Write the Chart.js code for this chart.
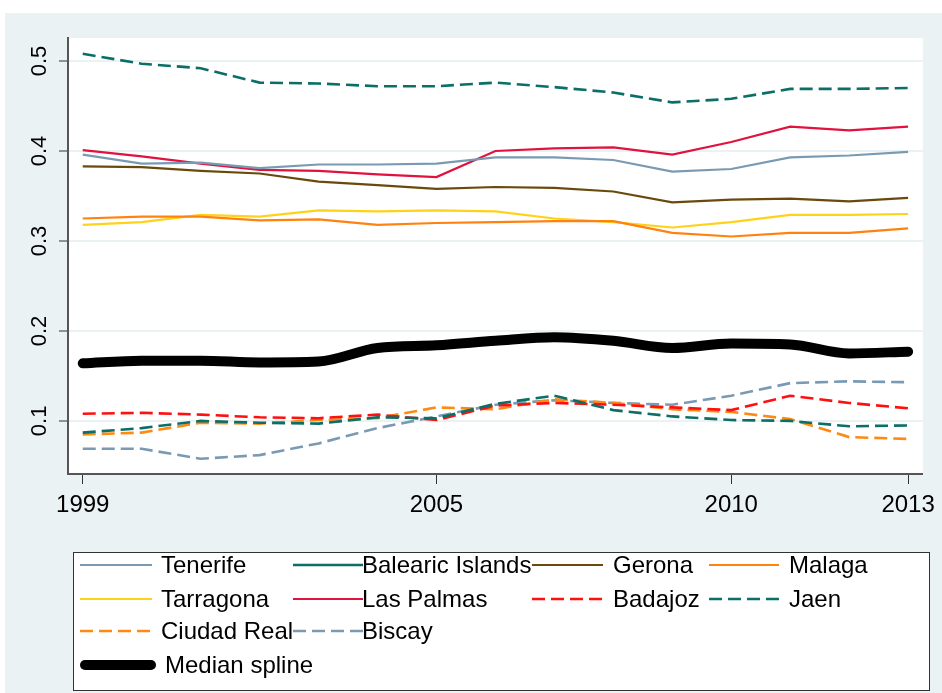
<!DOCTYPE html>
<html>
<head>
<meta charset="utf-8">
<title>Median spline</title>
<script src="https://cdn.jsdelivr.net/npm/chart.js@4.4.0/dist/chart.umd.min.js"></script>
<style>
  html, body { margin: 0; padding: 0; background: #fff; }
  #wrap { width: 942px; height: 693px; }
</style>
</head>
<body>
<div id="wrap"><canvas id="myChart" width="942" height="693"></canvas></div>
<script>
// values
const years = [1999, 2000, 2001, 2002, 2003, 2004, 2005, 2006, 2007, 2008, 2009, 2010, 2011, 2012, 2013];

const tenerife   = [0.396, 0.386, 0.387, 0.381, 0.385, 0.385, 0.386, 0.393, 0.393, 0.390, 0.377, 0.380, 0.393, 0.395, 0.399];
const balearic   = [0.087, 0.092, 0.100, 0.098, 0.097, 0.104, 0.103, 0.119, 0.128, 0.112, 0.105, 0.101, 0.100, 0.094, 0.095];
const gerona     = [0.383, 0.382, 0.378, 0.375, 0.366, 0.362, 0.358, 0.360, 0.359, 0.355, 0.343, 0.346, 0.347, 0.344, 0.348];
const malaga     = [0.325, 0.327, 0.327, 0.323, 0.324, 0.318, 0.320, 0.321, 0.322, 0.322, 0.309, 0.305, 0.309, 0.309, 0.314];
const tarragona  = [0.318, 0.321, 0.329, 0.327, 0.334, 0.333, 0.334, 0.333, 0.325, 0.321, 0.315, 0.321, 0.329, 0.329, 0.330];
const lasPalmas  = [0.401, 0.394, 0.386, 0.379, 0.378, 0.374, 0.371, 0.400, 0.403, 0.404, 0.396, 0.410, 0.427, 0.423, 0.427];
const badajoz    = [0.108, 0.109, 0.107, 0.104, 0.103, 0.107, 0.101, 0.117, 0.120, 0.118, 0.115, 0.112, 0.128, 0.120, 0.114];
const jaen       = [0.508, 0.497, 0.492, 0.476, 0.475, 0.472, 0.472, 0.476, 0.471, 0.465, 0.454, 0.458, 0.469, 0.469, 0.470];
const ciudadReal = [0.085, 0.087, 0.098, 0.097, 0.101, 0.103, 0.115, 0.113, 0.124, 0.120, 0.113, 0.110, 0.102, 0.082, 0.080];
const biscay     = [0.069, 0.069, 0.058, 0.062, 0.075, 0.092, 0.105, 0.118, 0.123, 0.120, 0.118, 0.128, 0.142, 0.144, 0.143];
const median     = [0.164, 0.167, 0.167, 0.165, 0.166, 0.181, 0.184, 0.189, 0.193, 0.189, 0.181, 0.186, 0.185, 0.175, 0.177];

const xTickYears = [1999, 2005, 2010, 2013];
const yTickValues = [0.1, 0.2, 0.3, 0.4, 0.5];

const FONT = '"Liberation Sans", Arial, sans-serif';
const BG = '#EAF2F3';
const DASH = [13, 6];

const toPoints = (vals) => vals.map((v, i) => ({ x: years[i], y: v }));

function line(label, vals, color, opts) {
  return Object.assign({
    label: label,
    data: toPoints(vals),
    borderColor: color,
    backgroundColor: color,
    borderWidth: 2.2,
    pointRadius: 0,
    pointHoverRadius: 0,
    tension: 0,
    fill: false,
  }, opts || {});
}

const datasets = [
  line('Tenerife', tenerife, '#7A9AB3'),
  line('Balearic Islands', balearic, '#0B6E67', { borderWidth: 2.6, borderDash: DASH, legendDash: [] }),
  line('Gerona', gerona, '#6A4A0C'),
  line('Malaga', malaga, '#FF8210'),
  line('Tarragona', tarragona, '#FFD21A'),
  line('Las Palmas', lasPalmas, '#E0123E'),
  line('Badajoz', badajoz, '#FF1010', { borderWidth: 2.6, borderDash: DASH }),
  line('Jaen', jaen, '#0B6E67', { borderWidth: 2.6, borderDash: DASH }),
  line('Ciudad Real', ciudadReal, '#FF8A12', { borderWidth: 2.6, borderDash: DASH }),
  line('Biscay', biscay, '#7A9AB3', { borderWidth: 2.6, borderDash: DASH }),
  line('Median spline', median, '#000000', { borderWidth: 10, borderCapStyle: 'round', cubicInterpolationMode: 'monotone' }),
];

// backgrounds: outer grey panel, white plot region
const backdrop = {
  id: 'backdrop',
  beforeDraw(chart) {
    const { ctx, chartArea } = chart;
    ctx.save();
    ctx.fillStyle = '#fff';
    ctx.fillRect(0, 0, chart.width, chart.height);
    ctx.fillStyle = BG;
    ctx.fillRect(5, 13, chart.width - 5, chart.height - 13);
    ctx.fillStyle = '#fff';
    ctx.fillRect(chartArea.left, chartArea.top, chartArea.right - chartArea.left, chartArea.bottom - chartArea.top);
    ctx.restore();
  }
};

// rotated y tick labels
const yLabels = {
  id: 'yLabels',
  afterDraw(chart) {
    const { ctx } = chart;
    const y = chart.scales.y;
    ctx.save();
    ctx.fillStyle = '#000';
    ctx.font = '22px ' + FONT;
    ctx.textAlign = 'center';
    ctx.textBaseline = 'middle';
    yTickValues.forEach((v) => {
      ctx.save();
      ctx.translate(40, y.getPixelForValue(v));
      ctx.rotate(-Math.PI / 2);
      ctx.fillText(v.toFixed(1), 0, 0);
      ctx.restore();
    });
    ctx.restore();
  }
};

// boxed legend in the Stata layout
const boxLegend = {
  id: 'boxLegend',
  afterDraw(chart) {
    const { ctx } = chart;
    const cols = [
      { x0: 80, x1: 152, tx: 161 },
      { x0: 293, x1: 363, tx: 362 },
      { x0: 532, x1: 603, tx: 613 },
      { x0: 709, x1: 779, tx: 789 },
    ];
    const rows = [565, 599, 631, 665];
    const slots = [
      [0, 0], [0, 1], [0, 2], [0, 3],
      [1, 0], [1, 1], [1, 2], [1, 3],
      [2, 0], [2, 1],
      [3, 0],
    ];
    ctx.save();
    ctx.fillStyle = '#fff';
    ctx.fillRect(73, 552, 856, 138);
    ctx.strokeStyle = '#333';
    ctx.lineWidth = 1;
    ctx.strokeRect(73.5, 552.5, 856, 138);
    ctx.font = '24px ' + FONT;
    ctx.textBaseline = 'middle';
    ctx.textAlign = 'left';
    chart.data.datasets.forEach((ds, i) => {
      const [r, c] = slots[i];
      const col = cols[c];
      const y = rows[r];
      ctx.save();
      ctx.strokeStyle = ds.borderColor;
      ctx.lineWidth = ds.borderWidth;
      ctx.lineCap = ds.borderCapStyle || 'butt';
      ctx.setLineDash(ds.legendDash || ds.borderDash || []);
      ctx.beginPath();
      const pad = ds.borderCapStyle === 'round' ? ds.borderWidth / 2 : 0;
      ctx.moveTo(col.x0 + pad, y);
      ctx.lineTo(col.x1 - pad + (pad ? 4 : 0), y);
      ctx.stroke();
      ctx.restore();
      ctx.fillStyle = '#000';
      ctx.fillText(ds.label, col.tx + (pad ? 4 : 0), y + 1);
    });
    ctx.restore();
  }
};

const ctx = document.getElementById('myChart').getContext('2d');
new Chart(ctx, {
  type: 'line',
  data: { datasets: datasets },
  options: {
    responsive: false,
    animation: false,
    devicePixelRatio: 1,
    layout: { padding: { top: 38, right: 12, left: 0, bottom: 159 } },
    plugins: {
      legend: { display: false },
      tooltip: { enabled: false },
    },
    scales: {
      x: {
        type: 'linear',
        min: 1998.75,
        max: 2013.25,
        afterBuildTicks(scale) {
          scale.ticks = xTickYears.map((v) => ({ value: v }));
        },
        afterFit(scale) { scale.height = 60; },
        ticks: {
          autoSkip: false,
          maxRotation: 0,
          padding: 7,
          color: '#000',
          font: { family: FONT, size: 24 },
          callback: (v) => String(v),
        },
        grid: {
          drawOnChartArea: false,
          drawTicks: true,
          tickLength: 10,
          tickColor: '#333',
          tickWidth: 1,
        },
        border: { color: '#555', width: 2 },
      },
      y: {
        type: 'linear',
        min: 0.041,
        max: 0.5256,
        afterBuildTicks(scale) {
          scale.ticks = yTickValues.map((v) => ({ value: v }));
        },
        afterFit(scale) { scale.width = 68; },
        ticks: { display: false },
        grid: {
          color: BG,
          lineWidth: 2,
          drawTicks: true,
          tickLength: 9,
          tickColor: '#333',
          tickWidth: 1,
        },
        border: { color: '#555', width: 2 },
      },
    },
  },
  plugins: [backdrop, yLabels, boxLegend],
});
</script>
</body>
</html>
